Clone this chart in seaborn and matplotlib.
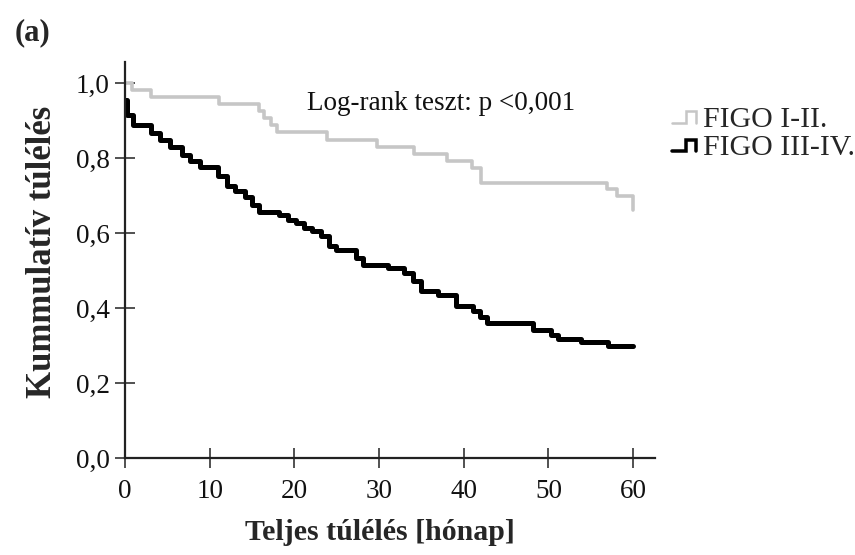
import matplotlib
matplotlib.use("Agg")
import matplotlib.pyplot as plt
from matplotlib.lines import Line2D
from matplotlib.legend_handler import HandlerBase
import seaborn as sns
import pandas as pd

# ---- data ----
early_time = [0, 0.8, 3.1, 11.1, 15.8, 16.4, 17.2, 17.9, 23.9, 29.8, 34.1, 38.0,
              41.0, 42.0, 56.9, 58.1, 60.0]
early_surv = [1.0, 0.98, 0.963, 0.944, 0.926, 0.907, 0.888, 0.869, 0.848, 0.829,
              0.811, 0.792, 0.773, 0.733, 0.717, 0.699, 0.661]

late_time = [0, 0.2, 1.0, 3.1, 4.1, 5.3, 6.7, 7.7, 8.9, 11.0, 12.0, 13.0, 14.2,
             15.0, 15.8, 18.2, 19.2, 20.2, 21.1, 22.1, 23.1, 24.1, 24.9, 27.3,
             28.1, 31.0, 33.0, 34.0, 35.0, 37.0, 39.1, 41.1, 41.9, 42.7, 48.2,
             50.3, 51.1, 53.9, 57.0, 60.0]
late_surv = [0.955, 0.915, 0.888, 0.866, 0.848, 0.830, 0.808, 0.791, 0.777, 0.751,
             0.724, 0.711, 0.697, 0.675, 0.657, 0.648, 0.635, 0.626, 0.613, 0.604,
             0.591, 0.564, 0.555, 0.533, 0.515, 0.506, 0.493, 0.471, 0.444, 0.435,
             0.404, 0.391, 0.377, 0.361, 0.340, 0.328, 0.317, 0.308, 0.299, 0.299]

groups = ["FIGO I-II.", "FIGO III-IV."]
x_ticks = [0, 10, 20, 30, 40, 50, 60]
y_ticks = [0.0, 0.2, 0.4, 0.6, 0.8, 1.0]
y_tick_labels = ["0,0", "0,2", "0,4", "0,6", "0,8", "1,0"]

colors = {"FIGO I-II.": "#c6c6c6", "FIGO III-IV.": "#000000"}
widths = {"FIGO I-II.": 2.6, "FIGO III-IV.": 3.6}

df = pd.concat([
    pd.DataFrame({"t": early_time, "s": early_surv, "g": groups[0]}),
    pd.DataFrame({"t": late_time, "s": late_surv, "g": groups[1]}),
], ignore_index=True)

sns.set_style("white")
plt.rcParams["font.family"] = ["Liberation Serif", "DejaVu Serif"]

fig = plt.figure(figsize=(8.55, 5.55), dpi=100)
ax = fig.add_axes([0.1462, 0.1748, 0.620, 0.7135])

for g in groups:
    sns.lineplot(data=df[df["g"] == g], x="t", y="s", ax=ax, color=colors[g],
                 linewidth=widths[g], drawstyle="steps-post", estimator=None,
                 sort=False, legend=False)

ax.set_xlim(0, 62.6)
ax.set_ylim(0, 1.056)
ax.set_xticks(x_ticks)
ax.set_xticklabels([str(v) for v in x_ticks])
ax.set_yticks(y_ticks)
ax.set_yticklabels(y_tick_labels)

for side in ["top", "right"]:
    ax.spines[side].set_visible(False)
for side in ["left", "bottom"]:
    ax.spines[side].set_linewidth(1.6)
    ax.spines[side].set_color("#222222")

ax.tick_params(axis="both", direction="inout", length=14, width=1.1,
               color="#222222", labelsize=19.5, labelcolor="#111111",
               bottom=True, left=True)
ax.tick_params(axis="y", pad=4)
ax.tick_params(axis="x", pad=8)

ax.set_xlabel("Teljes túlélés [hónap]", fontsize=21.5, fontweight="bold")
ax.set_ylabel("Kummulatív túlélés", fontsize=25, fontweight="bold")
ax.xaxis.set_label_coords(0.481, -0.189)
ax.xaxis.label.set(va="center", ha="center")
ax.yaxis.set_label_coords(-0.156, 0.52)
ax.yaxis.label.set(va="center", ha="center")

ax.text(21.5, 0.928, "Log-rank teszt: p <0,001", fontsize=19.5,
        ha="left", va="baseline", color="#111111")

fig.text(0.017, 1 - 33 / 555, "(a)", fontsize=22, fontweight="bold",
         ha="left", va="center")


class StepHandler(HandlerBase):
    def create_artists(self, legend, orig_handle, xdescent, ydescent,
                       width, height, fontsize, trans):
        x0 = -xdescent
        y0 = -ydescent + height * 0.2
        h = height * 0.55
        xs = [x0, x0 + width * 0.5, x0 + width * 0.5, x0 + width * 0.85, x0 + width * 0.85]
        ys = [y0, y0, y0 + h, y0 + h, y0]
        line = Line2D(xs, ys, color=orig_handle.get_color(),
                      linewidth=orig_handle.get_linewidth(), transform=trans,
                      solid_joinstyle="miter")
        return [line]


handles = [Line2D([], [], color=colors[g], linewidth=widths[g] * 0.7) for g in groups]
fig.legend(handles, groups, loc="upper left", bbox_to_anchor=(672 / 855, 1 - 106 / 555),
           frameon=False, fontsize=21.5, handlelength=0.95, handletextpad=0.1,
           borderpad=0, borderaxespad=0, labelspacing=0.05,
           handler_map={Line2D: StepHandler()})

fig.savefig("out.png", dpi=100, facecolor="white")
